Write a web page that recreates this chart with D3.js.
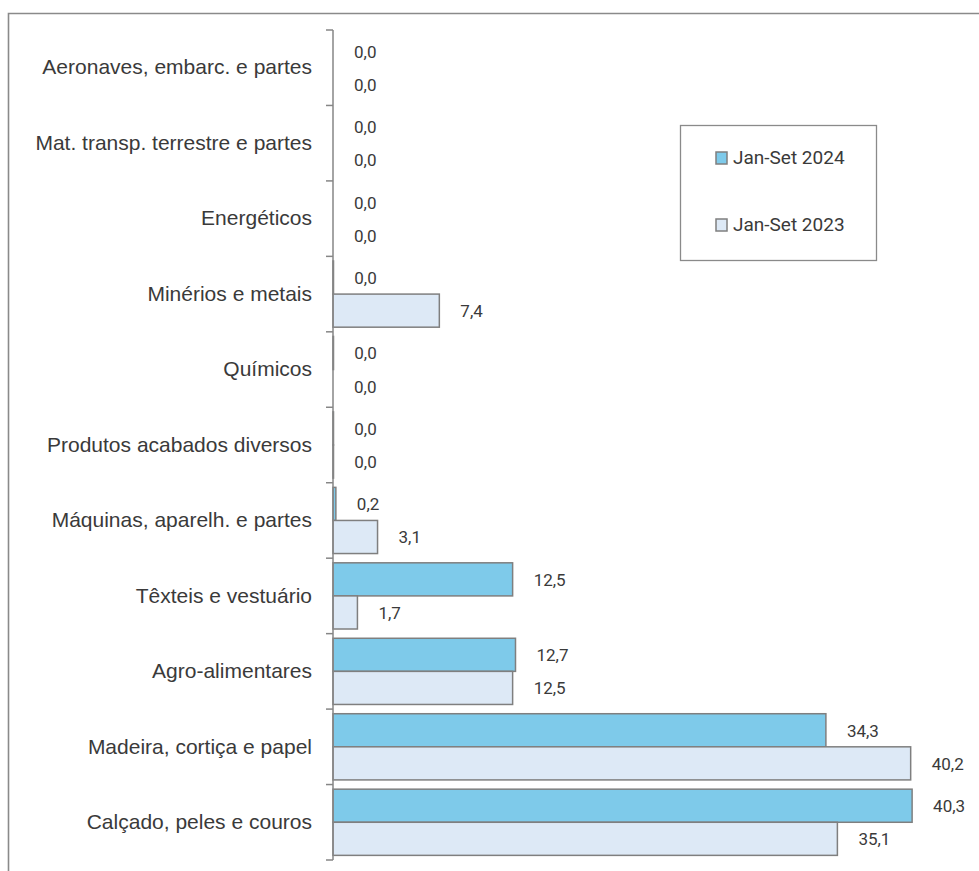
<!DOCTYPE html>
<html>
<head>
<meta charset="utf-8">
<script src="https://cdn.jsdelivr.net/npm/d3@7"></script>
<style>
  html, body { margin: 0; padding: 0; background: #fff; }
  svg { display: block; font-family: "Roboto", "Liberation Sans", sans-serif; }
</style>
</head>
<body>
<svg id="chart" width="979" height="871"></svg>
<script>
const categories = [
  "Aeronaves, embarc. e partes",
  "Mat. transp. terrestre e partes",
  "Energéticos",
  "Minérios e metais",
  "Químicos",
  "Produtos acabados diversos",
  "Máquinas, aparelh. e partes",
  "Têxteis e vestuário",
  "Agro-alimentares",
  "Madeira, cortiça e papel",
  "Calçado, peles e couros"
];
const seriesNames = ["Jan-Set 2024", "Jan-Set 2023"];
const values2024 = [0, 0, 0, 0.02, 0.02, 0.02, 0.2, 12.5, 12.7, 34.3, 40.3];
const values2023 = [0, 0, 0, 7.4, 0, 0.02, 3.1, 1.7, 12.5, 40.2, 35.1];
const seriesColors = ["#7ecaea", "#dde9f6"];

const svg = d3.select("#chart");
const axisX = 333, yTop = 30, yBottom = 860;

// frame
svg.append("path")
  .attr("d", "M8.5,880 L8.5,13.5 L990,13.5")
  .attr("fill", "none").attr("stroke", "#8a8a8a").attr("stroke-width", 1.6);

const x = d3.scaleLinear().domain([0, 45]).range([axisX, axisX + 45 * 14.37]);
const y = d3.scaleBand().domain(categories).range([yTop, yBottom]).paddingInner(0).paddingOuter(0);
const sub = d3.scaleBand().domain(seriesNames).range([0, y.bandwidth()]).paddingOuter(0.14).paddingInner(0);

const series = [values2024, values2023];
const groups = svg.append("g");
series.forEach((vals, si) => {
  const g = groups.append("g");
  categories.forEach((c, i) => {
    const v = vals[i];
    const by = y(c) + sub(seriesNames[si]);
    if (v > 0) {
      g.append("rect")
        .attr("x", x(0))
        .attr("y", by)
        .attr("width", Math.max(0.5, x(v) - x(0)))
        .attr("height", sub.bandwidth())
        .attr("fill", seriesColors[si])
        .attr("stroke", "#7f7f7f")
        .attr("stroke-width", 1.5);
    }
    g.append("text")
      .attr("x", x(v) + 21)
      .attr("y", by + sub.bandwidth() / 2 + 2)
      .attr("dominant-baseline", "middle")
      .attr("font-size", 17)
      .attr("fill", "#3a3a3a")
      .text(d3.format(".1f")(v).replace(".", ","));
  });
});

// axis
const axis = d3.axisLeft(y).tickSize(0).tickPadding(21);
const ag = svg.append("g").attr("transform", `translate(${axisX},0)`).call(axis);
ag.select(".domain").remove();
ag.selectAll("text").attr("font-size", 21).attr("fill", "#3a3a3a").attr("font-family", null);
svg.append("line").attr("x1", axisX).attr("x2", axisX).attr("y1", yTop).attr("y2", yBottom)
  .attr("stroke", "#868686").attr("stroke-width", 1.5);
const bounds = categories.map(c => y(c)).concat([yBottom]);
svg.append("g").selectAll("line").data(bounds).join("line")
  .attr("x1", axisX - 7).attr("x2", axisX).attr("y1", d => d).attr("y2", d => d)
  .attr("stroke", "#868686").attr("stroke-width", 1.5);

// legend
const lg = svg.append("g");
lg.append("rect").attr("x", 680.5).attr("y", 125.5).attr("width", 196).attr("height", 135)
  .attr("fill", "#fff").attr("stroke", "#8a8a8a").attr("stroke-width", 1.3);
seriesNames.forEach((n, i) => {
  const cy = 158 + i * 67;
  lg.append("rect").attr("x", 716).attr("y", cy - 6).attr("width", 11).attr("height", 12)
    .attr("fill", seriesColors[i]).attr("stroke", "#7f7f7f").attr("stroke-width", 1.5);
  lg.append("text").attr("x", 733).attr("y", cy + 1).attr("dominant-baseline", "middle")
    .attr("font-size", 19).attr("fill", "#3a3a3a").text(n);
});
</script>
</body>
</html>
